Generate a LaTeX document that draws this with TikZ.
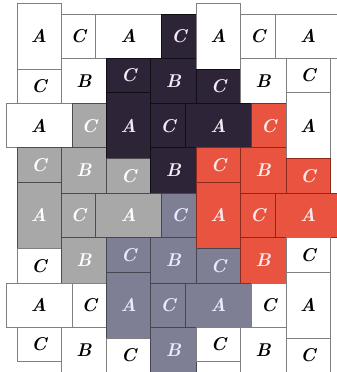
\documentclass[tikz,border=0pt]{standalone}
\usepackage{xcolor}
\definecolor{TileDark}{RGB}{46,36,56}
\definecolor{TileGray}{RGB}{168,168,168}
\definecolor{TileSlate}{RGB}{126,127,148}
\definecolor{TileRed}{RGB}{233,84,64}
\definecolor{EdgeRed}{RGB}{140,40,28}
\tikzset{
  tile/.style={anchor=north west, inner sep=0pt, outer sep=0pt,
    line width=0.9pt, font=\fontsize{18.5}{18.5}\selectfont\bfseries\itshape},
  avert/.style={tile, minimum width=44pt, minimum height=66pt},
  ahor/.style={tile, minimum width=66pt, minimum height=44pt},
  bsq/.style={tile, minimum width=45.7pt, minimum height=45.7pt},
  chor/.style={tile, minimum width=44pt, minimum height=34.7pt},
  cver/.style={tile, minimum width=34.7pt, minimum height=44pt},
  plain/.style={draw=black!50, fill=white, text=black},
  darkt/.style={draw=black!60!TileDark, fill=TileDark, text=violet!8},
  grayt/.style={draw=black!70, fill=TileGray, text=white},
  slatet/.style={draw=black!45!TileSlate, fill=TileSlate, text=white!92!blue},
  redt/.style={draw=EdgeRed, fill=TileRed, text=red!8}
}
\begin{document}
\begin{tikzpicture}[x=1pt,y=-1pt]
  \useasboundingbox (0,0) rectangle (337,372);
  \clip (0,0) rectangle (337,372);

  \node[avert, plain] (a00) at (17,3) {A};
  \node[chor, plain] (c00h) at (17,69) {C};
  \node[cver, plain] (c00v) at (61,14) {C};
  \node[bsq, plain] (b00) at (61,58) {B};
  \node[ahor, plain] (a10) at (95.7,14) {A};
  \node[cver, darkt] (c10v) at (161.7,14) {C};
  \node[chor, darkt] (c10h) at (106.7,58) {C};
  \node[bsq, darkt] (b10) at (150.7,58) {B};
  \node[avert, plain] (a20) at (196.4,3) {A};
  \node[chor, darkt] (c20h) at (196.4,69) {C};
  \node[cver, plain] (c20v) at (240.4,14) {C};
  \node[bsq, plain] (b20) at (240.4,58) {B};
  \node[ahor, plain] (a30) at (275.1,14) {A};
  \node[chor, plain] (c30h) at (286.1,58) {C};

  \node[ahor, plain] (a01) at (6,103.7) {A};
  \node[cver, grayt] (c01v) at (72,103.7) {C};
  \node[chor, grayt] (c01h) at (17,147.7) {C};
  \node[bsq, grayt] (b01) at (61,147.7) {B};
  \node[avert, darkt] (a11) at (106.7,92.7) {A};
  \node[chor, grayt] (c11h) at (106.7,158.7) {C};
  \node[cver, darkt] (c11v) at (150.7,103.7) {C};
  \node[bsq, darkt] (b11) at (150.7,147.7) {B};
  \node[ahor, darkt] (a21) at (185.4,103.7) {A};
  \node[cver, redt] (c21v) at (251.4,103.7) {C};
  \node[chor, redt] (c21h) at (196.4,147.7) {C};
  \node[bsq, redt] (b21) at (240.4,147.7) {B};
  \node[avert, plain] (a31) at (286.1,92.7) {A};
  \node[chor, redt] (c31h) at (286.1,158.7) {C};

  \node[avert, grayt] (a02) at (17,182.4) {A};
  \node[chor, plain] (c02h) at (17,248.4) {C};
  \node[cver, grayt] (c02v) at (61,193.4) {C};
  \node[bsq, grayt] (b02) at (61,237.4) {B};
  \node[ahor, grayt] (a12) at (95.7,193.4) {A};
  \node[cver, slatet] (c12v) at (161.7,193.4) {C};
  \node[chor, slatet] (c12h) at (106.7,237.4) {C};
  \node[bsq, slatet] (b12) at (150.7,237.4) {B};
  \node[avert, redt] (a22) at (196.4,182.4) {A};
  \node[chor, slatet] (c22h) at (196.4,248.4) {C};
  \node[cver, redt] (c22v) at (240.4,193.4) {C};
  \node[bsq, redt] (b22) at (240.4,237.4) {B};
  \node[ahor, redt] (a32) at (275.1,193.4) {A};
  \node[chor, plain] (c32h) at (286.1,237.4) {C};

  \node[ahor, plain] (a03) at (6,283.1) {A};
  \node[cver, plain] (c03v) at (72,283.1) {C};
  \node[chor, plain] (c03h) at (17,327.1) {C};
  \node[bsq, plain] (b03) at (61,327.1) {B};
  \node[avert, slatet] (a13) at (106.7,272.1) {A};
  \node[chor, plain] (c13h) at (106.7,338.1) {C};
  \node[cver, slatet] (c13v) at (150.7,283.1) {C};
  \node[bsq, slatet] (b13) at (150.7,327.1) {B};
  \node[ahor, slatet] (a23) at (185.4,283.1) {A};
  \node[cver, plain] (c23v) at (251.4,283.1) {C};
  \node[chor, plain] (c23h) at (196.4,327.1) {C};
  \node[bsq, plain] (b23) at (240.4,327.1) {B};
  \node[avert, plain] (a33) at (286.1,272.1) {A};
  \node[chor, plain] (c33h) at (286.1,338.1) {C};
\end{tikzpicture}
\end{document}
